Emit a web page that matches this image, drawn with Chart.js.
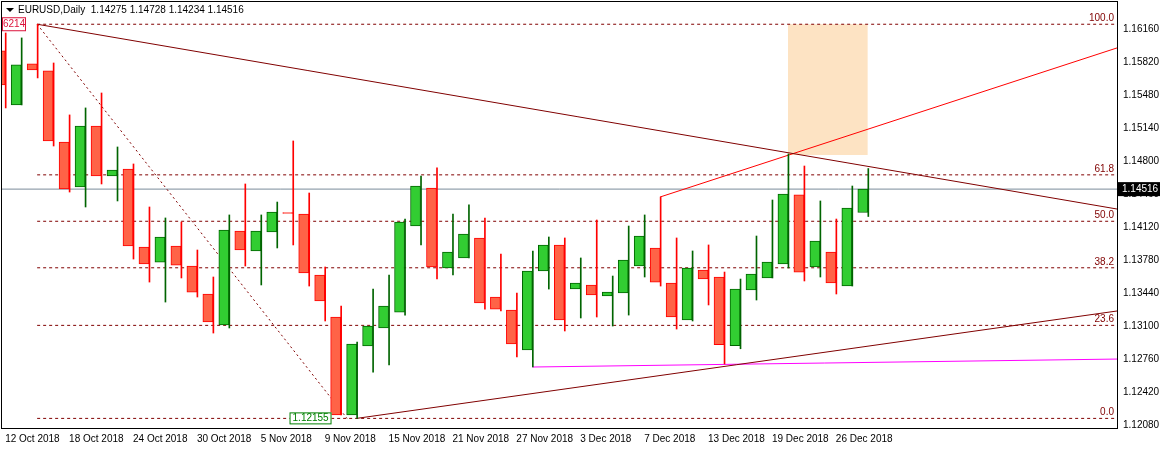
<!DOCTYPE html>
<html>
<head>
<meta charset="utf-8">
<script src="https://cdn.jsdelivr.net/npm/chart.js@4"></script>
<style>
  html, body { margin: 0; padding: 0; background: #fff; }
  #wrap { width: 1163px; height: 449px; position: relative; }
</style>
</head>
<body>
<div id="wrap"><canvas id="chart"></canvas></div>
<script>
// daily EURUSD candles, index 0 = 12 Oct 2018
const opens  = [1.15939,1.15383,1.15805,1.15733,1.15001,1.14538,1.15166,1.14651,1.14723,1.13920,1.13765,1.13930,1.13724,1.13436,1.13117,1.14085,1.13879,1.14074,1.14270,1.14260,1.13632,1.13199,1.12190,1.12900,1.13086,1.13250,1.14136,1.14528,1.13704,1.13807,1.14013,1.13405,1.13271,1.12859,1.13673,1.13941,1.13487,1.13529,1.13415,1.13446,1.13724,1.13910,1.13549,1.13168,1.13683,1.13611,1.12903,1.13477,1.13601,1.13745,1.14456,1.13714,1.13868,1.13518,1.14275];
const highs  = [1.16124,1.16073,1.16214,1.15815,1.15280,1.15352,1.15506,1.14950,1.14775,1.14332,1.14219,1.14177,1.13889,1.13611,1.14250,1.14569,1.14250,1.14383,1.15012,1.14476,1.13714,1.13312,1.12942,1.13487,1.13632,1.14208,1.14651,1.14734,1.14260,1.14353,1.14219,1.13848,1.13446,1.13879,1.14023,1.14013,1.13807,1.14198,1.13621,1.14136,1.14250,1.14435,1.14013,1.13879,1.13941,1.13662,1.13590,1.14033,1.14404,1.14878,1.14754,1.14394,1.14208,1.14548,1.14728];
const lows   = [1.15352,1.15383,1.15661,1.14960,1.14486,1.14332,1.14569,1.14394,1.13796,1.13559,1.13353,1.13601,1.13405,1.13034,1.13086,1.13724,1.13529,1.13910,1.13941,1.13518,1.13158,1.12190,1.12155,1.12632,1.12705,1.13219,1.13941,1.13590,1.13632,1.13807,1.13281,1.13261,1.12787,1.12684,1.13487,1.13055,1.13189,1.13199,1.13106,1.13219,1.13611,1.13518,1.13075,1.13158,1.13323,1.12715,1.12872,1.13374,1.13601,1.13704,1.13570,1.13611,1.13436,1.13518,1.14234];
const closes = [1.15589,1.15795,1.15743,1.15012,1.14517,1.15166,1.14651,1.14713,1.13930,1.13745,1.14023,1.13734,1.13456,1.13148,1.14095,1.13889,1.14085,1.14280,1.14265,1.13652,1.13364,1.12190,1.12921,1.13106,1.13312,1.14177,1.14548,1.13714,1.13868,1.14054,1.13343,1.13281,1.12921,1.13673,1.13941,1.13168,1.13549,1.13426,1.13456,1.13786,1.14033,1.13559,1.13199,1.13704,1.13590,1.12914,1.13487,1.13642,1.13765,1.14466,1.13662,1.13982,1.13549,1.14322,1.14516];

const dateTicks  = [0, 4, 8, 12, 16, 20, 24, 28, 32, 36, 40, 44, 48, 52];
const dateLabels = ['12 Oct 2018','18 Oct 2018','24 Oct 2018','30 Oct 2018','5 Nov 2018','9 Nov 2018','15 Nov 2018','21 Nov 2018','27 Nov 2018','3 Dec 2018','7 Dec 2018','13 Dec 2018','19 Dec 2018','26 Dec 2018'];
const priceTicks = [1.12080,1.12420,1.12760,1.13100,1.13440,1.13780,1.14120,1.14460,1.14800,1.15140,1.15480,1.15820,1.16160];

const fibLevels = [1.16214, 1.14663, 1.14185, 1.13706, 1.13113, 1.12155];
const fibNames  = ['100.0', '61.8', '50.0', '38.2', '23.6', '0.0'];
const lastPrice = 1.14516;

const X_MIN = -0.2, X_MAX = 69.6;
const BULL = '#32CD32', BULL_EDGE = '#006400', BEAR = '#FF6347', BEAR_EDGE = '#FF0000';
const FONT = 'Liberation Sans';

const isBull = closes.map((c, i) => c >= opens[i]);
const wickData = highs.map((h, i) => ({ x: i, y: [lows[i], h] }));
const bodyData = opens.map((o, i) => ({ x: i, y: [Math.min(o, closes[i]), Math.max(o, closes[i])] }));

function seg(x1, y1, x2, y2, color, dash, order) {
    return {
        type: 'line', data: [{ x: x1, y: y1 }, { x: x2, y: y2 }],
        borderColor: color, borderWidth: 1, borderDash: dash || [],
        pointRadius: 0, fill: false, order: order || 3
    };
}

const datasets = [
    // body/wick
    { type: 'bar', data: wickData, barThickness: 1, order: 1,
      backgroundColor: isBull.map(b => b ? BULL_EDGE : BEAR_EDGE) },
    { type: 'bar', data: bodyData, barThickness: 10, order: 0, minBarLength: 1,
      borderWidth: 1, borderSkipped: false,
      backgroundColor: isBull.map(b => b ? BULL : BEAR),
      borderColor: isBull.map(b => b ? BULL_EDGE : BEAR_EDGE) },
    // orange zone
    { type: 'line', data: [{ x: 49, y: 1.16214 }, { x: 54, y: 1.16214 }], borderWidth: 0,
      pointRadius: 0, backgroundColor: '#FDE3C3', fill: '+1', order: 6 },
    { type: 'line', data: [{ x: 49, y: 1.14867 }, { x: 54, y: 1.14867 }], borderWidth: 0,
      pointRadius: 0, fill: false, order: 6 },
    // current price
    seg(X_MIN, lastPrice, X_MAX, lastPrice, '#7A8B9A', [], 5),
    // trend lines
    seg(2, 1.16214, X_MAX, 1.14311, '#800000'),
    seg(2, 1.16214, 21.4, 1.12155, '#800000', [2, 3]),
    seg(22, 1.12155, X_MAX, 1.13261, '#800000'),
    seg(41, 1.14435, X_MAX, 1.15970, '#FF0000'),
    seg(33, 1.12684, X_MAX, 1.12766, '#FF00FF')
];
fibLevels.forEach(v => datasets.push(seg(2, v, X_MAX, v, '#800000', [3, 3], 4)));

const overlayText = {
    id: 'overlayText',
    afterDraw(chart) {
        const { ctx, chartArea: a, scales: { x, y } } = chart;
        ctx.save();
        ctx.font = '10px "' + FONT + '"';
        ctx.textBaseline = 'bottom';
        ctx.textAlign = 'right';
        ctx.fillStyle = '#800000';
        fibLevels.forEach((v, i) => ctx.fillText(fibNames[i], a.right - 3, y.getPixelForValue(v) - 1));

        // price box on axis
        const py = y.getPixelForValue(lastPrice);
        ctx.fillStyle = '#000';
        ctx.fillRect(a.right + 1, py - 7, 42, 14);
        ctx.fillStyle = '#fff';
        ctx.textAlign = 'left';
        ctx.textBaseline = 'middle';
        ctx.fillText('1.14516', a.right + 5, py);

        // swing labels
        let hy = y.getPixelForValue(1.16214);
        ctx.fillStyle = '#fff';
        ctx.fillRect(a.left, hy - 7, 24, 14);
        ctx.strokeStyle = '#DC143C';
        ctx.strokeRect(a.left + 0.5, hy - 6.5, 23, 13);
        ctx.fillStyle = '#DC143C';
        ctx.fillText('6214', a.left + 1, hy);
        let ly = y.getPixelForValue(1.12155), lx = x.getPixelForValue(17.8);
        ctx.fillStyle = '#fff';
        ctx.fillRect(lx, ly - 6, 42, 12);
        ctx.strokeStyle = '#008000';
        ctx.strokeRect(lx + 0.5, ly - 5.5, 41, 11);
        ctx.fillStyle = '#008000';
        ctx.fillText('1.12155', lx + 3, ly);

        // header
        ctx.fillStyle = '#000';
        ctx.beginPath();
        ctx.moveTo(6, 8); ctx.lineTo(14, 8); ctx.lineTo(10, 12); ctx.closePath();
        ctx.fill();
        ctx.fillText('EURUSD,Daily  1.14275 1.14728 1.14234 1.14516', 18, 10);
        ctx.restore();
    }
};

new Chart(document.getElementById('chart'), {
    data: { datasets },
    options: {
        responsive: true, maintainAspectRatio: false, animation: false,
        layout: { padding: { left: 2, top: 2, right: 0, bottom: 0 } },
        plugins: { legend: { display: false }, tooltip: { enabled: false } },
        scales: {
            x: {
                type: 'linear', min: X_MIN, max: X_MAX, offset: false,
                grid: { display: false, drawTicks: true, tickLength: 4, tickColor: '#000' },
                border: { color: '#000' },
                afterBuildTicks: s => { s.ticks = dateTicks.map(v => ({ value: v })); },
                afterFit: s => { s.height = 21; s.paddingLeft = 0; s.paddingRight = 0; },
                ticks: {
                    autoSkip: false, maxRotation: 0, align: 'start', padding: 1,
                    color: '#000', font: { family: FONT, size: 10 },
                    callback: v => dateLabels[dateTicks.indexOf(v)]
                }
            },
            y: {
                position: 'right', min: 1.12056, max: 1.16443,
                grid: { display: false, tickLength: 4, tickColor: '#000' },
                border: { color: '#000' },
                afterBuildTicks: s => { s.ticks = priceTicks.map(v => ({ value: v })); },
                afterFit: s => { s.width = 46; s.paddingTop = 0; s.paddingBottom = 0; },
                ticks: { color: '#000', padding: 2, font: { family: FONT, size: 10 },
                         callback: v => v.toFixed(5) }
            }
        }
    },
    plugins: [overlayText, {
        id: 'frame',
        afterDraw(chart) {
            const { ctx, chartArea: a } = chart;
            ctx.save();
            ctx.strokeStyle = '#000';
            ctx.strokeRect(a.left - 0.5, a.top - 0.5, a.right - a.left + 1, a.bottom - a.top + 1);
            ctx.restore();
        }
    }]
});
</script>
</body>
</html>
